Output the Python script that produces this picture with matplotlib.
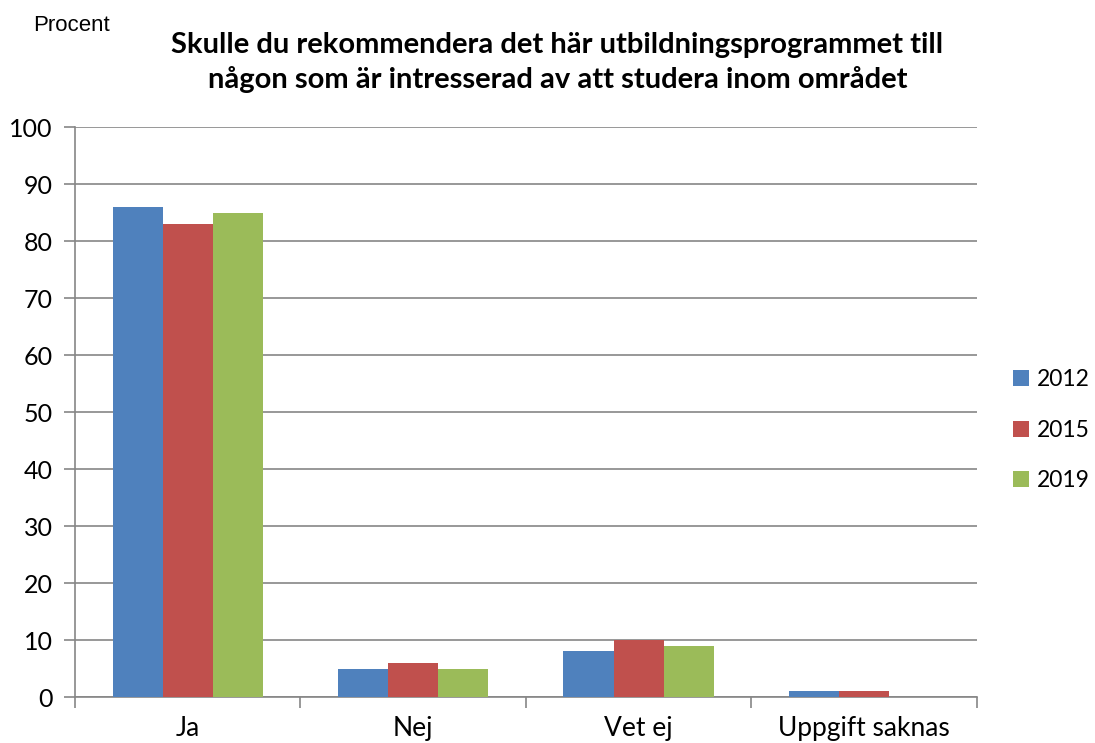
import matplotlib.pyplot as plt
import numpy as np

categories = ["Ja", "Nej", "Vet ej", "Uppgift saknas"]
years = ["2012", "2015", "2019"]
v2012 = [86, 5, 8, 1]
v2015 = [83, 6, 10, 1]
v2019 = [85, 5, 9, 0]
colors = ["#4F81BD", "#C0504D", "#9BBB59"]

plt.rcParams['font.family'] = ['Lato', 'DejaVu Sans']

fig = plt.figure(figsize=(10.95, 7.43), dpi=100)
ax = fig.add_axes([0.0685, 0.0619, 0.8235, 0.7671])

x = np.arange(len(categories))
w = 2 / 9
for i, vals in enumerate([v2012, v2015, v2019]):
    ax.bar(x + (i - 1) * w, vals, width=w, color=colors[i], label=years[i], zorder=3)

ax.set_xlim(-0.5, len(categories) - 0.5)
ax.set_ylim(0, 100)
ax.set_yticks(range(0, 101, 10))
ax.yaxis.grid(True, color="#868686", linewidth=1.2, zorder=0)
ax.set_axisbelow(True)

ax.set_xticks(x)
ax.set_xticklabels(categories, fontsize=19)
ax.tick_params(axis='x', length=0, pad=14)
ax.set_xticks(np.arange(-0.5, len(categories)), minor=True)
ax.tick_params(axis='x', which='minor', length=8, color="#868686", width=1.2)
ax.tick_params(axis='y', labelsize=18, length=8, color="#868686", width=1.2, pad=8)

for s in ["top", "right"]:
    ax.spines[s].set_visible(False)
for s in ["left", "bottom"]:
    ax.spines[s].set_color("#868686")
    ax.spines[s].set_linewidth(1.2)

fig.text(0.030, 0.958, "Procent", fontsize=16, family=['Liberation Sans'])
fig.text(0.509, 0.916, "Skulle du rekommendera det här utbildningsprogrammet till\nnågon som är intresserad av att studera inom området",
         ha='center', va='center', fontsize=21, fontweight='bold', linespacing=1.4)

handles, labels = ax.get_legend_handles_labels()
fig.legend(handles, labels, loc='center left', bbox_to_anchor=(0.925, 0.421),
           frameon=False, fontsize=16.5, handlelength=0.7, handleheight=0.7,
           handletextpad=0.35, labelspacing=1.3, borderaxespad=0, borderpad=0)

fig.savefig("out.png", dpi=100)
